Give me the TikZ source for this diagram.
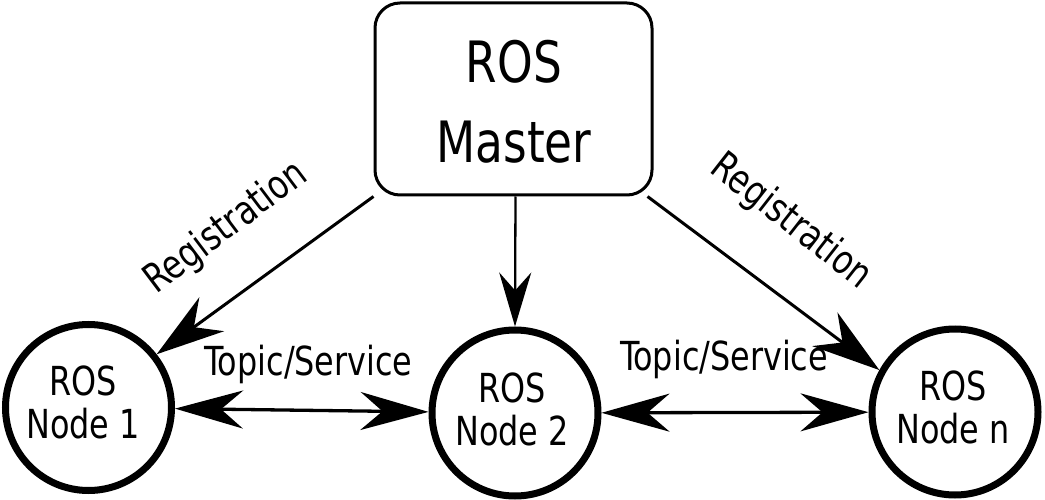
\documentclass[tikz,border=0pt]{standalone}
\usepackage{fontspec}
\setmainfont{DejaVu Sans Condensed}[FakeStretch=0.885]
\usetikzlibrary{arrows.meta}
\begin{document}
\begin{tikzpicture}[x=1pt,y=-1pt,
  rosnode/.style={circle,draw,line width=7pt,minimum size=166pt,inner sep=0pt},
  nodetext/.style={inner sep=0pt,align=center,font=\fontsize{40}{43}\selectfont},
  masterbox/.style={draw,rounded corners=25pt,line width=3pt,minimum width=277pt,minimum height=192pt,inner sep=0pt},
  mastertext/.style={inner sep=0pt,align=center,font=\fontsize{57}{80}\selectfont},
  lbl/.style={font=\fontsize{40}{43}\selectfont,inner sep=0pt},
  regarrow/.style={line width=3pt,-{Stealth[length=68pt,width=42pt,inset=22pt]}},
  midarrow/.style={line width=2.3pt,-{Stealth[length=54pt,width=32pt,inset=18pt]}},
  linkarrow/.style={line width=3.3pt,{Stealth[length=68pt,width=38pt,inset=22pt]}-{Stealth[length=68pt,width=38pt,inset=22pt]}}
]
\useasboundingbox (0,0) rectangle (1045,500);
\node[masterbox] (m) at (513.5,99) {};
\node[mastertext] (mt) at (514,102) {ROS\\Master};
\node[rosnode] (n1) at (88.5,407.5) {};
\node[rosnode] (n2) at (515,413) {};
\node[rosnode] (nn) at (955,412) {};
\node[nodetext] (n1t) at (83,402) {ROS\\Node 1};
\node[nodetext] (n2t) at (512,409) {ROS\\Node 2};
\node[nodetext] (nnt) at (953,407) {ROS\\Node n};
\draw[regarrow] (m.south west) -- (n1.38);
\draw[midarrow] ([xshift=2pt]m.south) -- (n2.north);
\draw[regarrow] ([xshift=-6pt]m.south east) -- (nn.151);
\draw[linkarrow] (n1) -- (n2);
\draw[linkarrow] (n2) -- (nn);
\node[lbl,rotate=37] (r1) at (226,228) {Registration};
\node[lbl,rotate=-38] (r2) at (791,222) {Registration};
\node[lbl,anchor=base] (t1) at (308.5,375) {Topic/Service};
\node[lbl,anchor=base] (t2) at (724,370) {Topic/Service};
\end{tikzpicture}
\end{document}
